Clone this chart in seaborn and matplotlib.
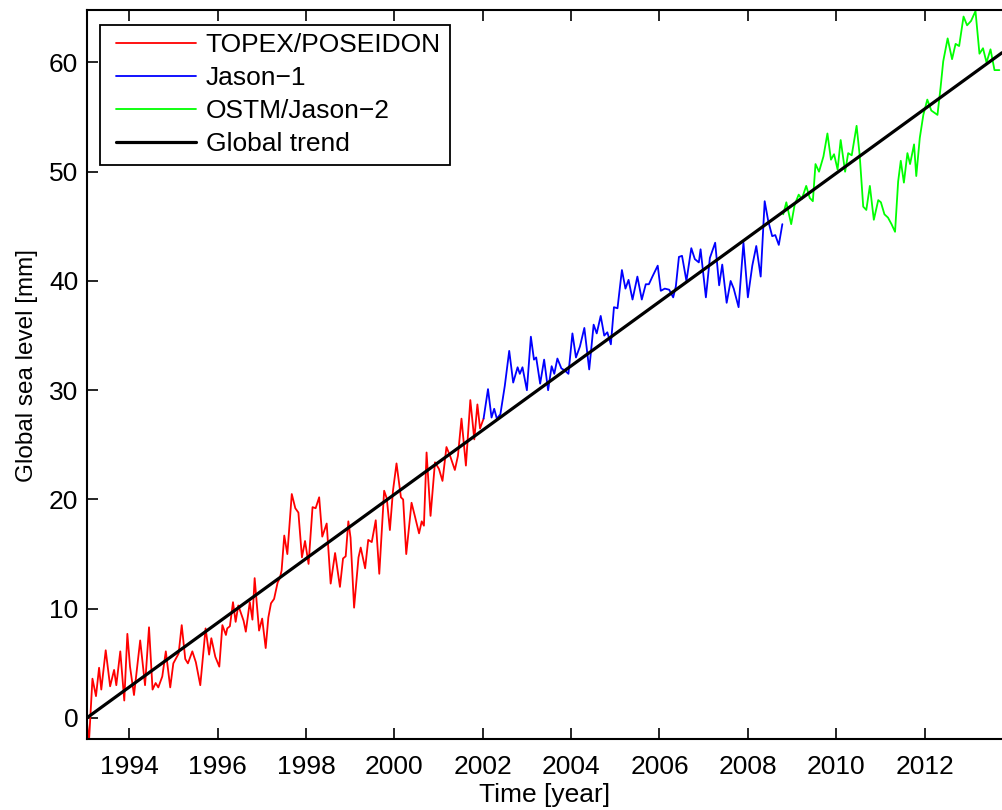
import numpy as np
import pandas as pd
import matplotlib
matplotlib.use("Agg")
import matplotlib.pyplot as plt
from matplotlib.lines import Line2D
from matplotlib.legend_handler import HandlerLine2D
import seaborn as sns

# Global mean sea level by mission (decimal year, mm)
topex_year = [1993.04, 1993.09, 1993.17, 1993.25, 1993.32, 1993.37, 1993.47, 1993.57, 1993.66, 1993.71,
              1993.80, 1993.89, 1993.96, 1994.02, 1994.11, 1994.25, 1994.36, 1994.45, 1994.53, 1994.60,
              1994.66, 1994.75, 1994.83, 1994.93, 1995.00, 1995.12, 1995.19, 1995.27, 1995.33, 1995.43,
              1995.51, 1995.61, 1995.73, 1995.81, 1995.86, 1995.95, 1996.04, 1996.11, 1996.19, 1996.22,
              1996.28, 1996.35, 1996.41, 1996.47, 1996.59, 1996.64, 1996.73, 1996.79, 1996.84, 1996.94,
              1997.01, 1997.09, 1997.15, 1997.21, 1997.28, 1997.36, 1997.41, 1997.45, 1997.51, 1997.58,
              1997.68, 1997.76, 1997.83, 1997.91, 1997.98, 1998.06, 1998.15, 1998.22, 1998.30, 1998.37,
              1998.47, 1998.56, 1998.66, 1998.77, 1998.84, 1998.90, 1998.96, 1999.01, 1999.09, 1999.19,
              1999.24, 1999.34, 1999.41, 1999.49, 1999.58, 1999.66, 1999.77, 1999.83, 1999.90, 1999.97,
              2000.05, 2000.15, 2000.20, 2000.27, 2000.39, 2000.47, 2000.56, 2000.62, 2000.67, 2000.73,
              2000.82, 2000.92, 2001.01, 2001.09, 2001.18, 2001.27, 2001.37, 2001.44, 2001.52, 2001.62,
              2001.72, 2001.81, 2001.88, 2001.94, 2002.02]
topex_mm = [-0.1, -2.3, 3.6, 2.0, 4.6, 2.6, 6.2, 2.9, 4.4, 3.0,
            6.1, 1.6, 7.7, 4.7, 2.1, 7.1, 3.0, 8.3, 2.6, 3.2,
            2.8, 3.8, 6.1, 2.8, 5.0, 5.9, 8.5, 5.4, 5.0, 6.1,
            5.1, 3.0, 8.2, 5.8, 7.3, 5.6, 4.7, 8.5, 7.6, 8.2,
            8.4, 10.6, 8.8, 10.3, 8.9, 7.9, 10.6, 9.0, 12.8, 8.0,
            9.1, 6.4, 9.2, 10.5, 10.9, 12.4, 12.8, 13.5, 16.7, 15.0,
            20.5, 19.2, 18.8, 14.7, 16.2, 14.1, 19.3, 19.2, 20.2, 16.6,
            17.8, 12.3, 15.1, 12.0, 14.6, 14.8, 18.0, 16.5, 10.1, 14.7,
            15.6, 13.7, 16.3, 16.1, 18.1, 13.2, 20.8, 20.1, 17.2, 20.8,
            23.3, 20.2, 20.0, 15.0, 19.7, 18.4, 16.9, 18.0, 17.6, 24.3,
            18.5, 23.4, 22.8, 21.7, 24.8, 23.9, 22.7, 24.0, 27.4, 23.1,
            29.1, 25.5, 28.7, 26.5, 27.4]

jason1_year = [2002.02, 2002.12, 2002.20, 2002.26, 2002.32, 2002.40, 2002.50, 2002.60, 2002.69, 2002.79,
               2002.84, 2002.90, 2003.00, 2003.09, 2003.16, 2003.21, 2003.30, 2003.39, 2003.48, 2003.56,
               2003.62, 2003.69, 2003.78, 2003.86, 2003.94, 2004.03, 2004.11, 2004.20, 2004.30, 2004.41,
               2004.51, 2004.58, 2004.67, 2004.75, 2004.82, 2004.90, 2004.97, 2005.05, 2005.15, 2005.23,
               2005.30, 2005.39, 2005.50, 2005.60, 2005.69, 2005.76, 2005.84, 2005.96, 2006.03, 2006.12,
               2006.22, 2006.31, 2006.37, 2006.44, 2006.51, 2006.61, 2006.72, 2006.80, 2006.89, 2006.93,
               2007.05, 2007.14, 2007.26, 2007.35, 2007.42, 2007.52, 2007.61, 2007.68, 2007.79, 2007.90,
               2008.00, 2008.10, 2008.19, 2008.29, 2008.38, 2008.46, 2008.55, 2008.62, 2008.70, 2008.78]
jason1_mm = [27.4, 30.1, 27.5, 28.3, 27.4, 27.8, 30.4, 33.6, 30.7, 32.1,
             31.5, 32.1, 30.0, 34.9, 32.8, 33.0, 30.6, 32.8, 30.0, 32.2,
             31.5, 32.9, 32.0, 31.8, 31.5, 35.2, 33.0, 34.0, 35.7, 31.9,
             36.0, 35.2, 36.8, 35.0, 35.3, 34.2, 37.6, 37.5, 41.0, 39.3,
             40.1, 38.3, 40.4, 38.3, 39.7, 39.7, 40.4, 41.4, 39.1, 39.3,
             39.2, 38.5, 39.5, 42.2, 42.3, 40.0, 43.0, 42.0, 41.7, 42.9,
             38.5, 42.1, 43.5, 39.6, 41.5, 38.0, 40.0, 39.3, 37.6, 43.5,
             38.5, 41.4, 43.2, 40.4, 47.3, 45.5, 44.1, 44.2, 43.3, 45.2]

jason2_year = [2008.80, 2008.87, 2008.98, 2009.06, 2009.15, 2009.22, 2009.32, 2009.40, 2009.47, 2009.53,
               2009.61, 2009.71, 2009.80, 2009.88, 2009.95, 2010.03, 2010.10, 2010.20, 2010.27, 2010.35,
               2010.46, 2010.53, 2010.61, 2010.68, 2010.76, 2010.85, 2010.95, 2011.01, 2011.09, 2011.17,
               2011.25, 2011.33, 2011.40, 2011.46, 2011.53, 2011.61, 2011.67, 2011.76, 2011.81, 2011.89,
               2011.97, 2012.06, 2012.15, 2012.29, 2012.36, 2012.42, 2012.52, 2012.62, 2012.70, 2012.78,
               2012.88, 2012.96, 2013.05, 2013.15, 2013.24, 2013.32, 2013.40, 2013.49, 2013.58, 2013.69]
jason2_mm = [46.1, 47.2, 45.2, 47.0, 47.9, 47.5, 48.7, 47.6, 47.3, 50.7,
             50.0, 51.4, 53.5, 51.1, 51.6, 50.2, 52.9, 50.0, 51.7, 51.5,
             54.2, 51.5, 46.8, 46.5, 48.7, 45.6, 47.4, 47.2, 46.1, 45.8,
             45.2, 44.5, 49.1, 51.0, 49.0, 51.7, 50.7, 52.5, 49.6, 53.1,
             55.2, 56.6, 55.6, 55.2, 57.7, 60.1, 62.2, 60.3, 61.7, 61.5,
             64.2, 63.4, 63.8, 64.7, 60.8, 61.3, 60.0, 61.2, 59.3, 59.3]

# Linear global trend: rate (mm/yr) and the year where it crosses 0 mm
trend_rate = 2.94
trend_origin = 1993.04
trend_span = [1993.04, 2013.75]

missions = ["TOPEX/POSEIDON", "Jason\u22121", "OSTM/Jason\u22122"]
mission_colors = ["#ff0000", "#0000ff", "#00ff00"]

sns.set_theme(style="ticks")
plt.rcParams["font.family"] = ["Liberation Sans", "DejaVu Sans"]
plt.rcParams.update({"text.color": "black", "axes.labelcolor": "black",
                     "xtick.color": "black", "ytick.color": "black",
                     "axes.edgecolor": "black", "axes.linewidth": 1.5})

df = pd.concat([
    pd.DataFrame({"year": topex_year, "gmsl": topex_mm, "mission": missions[0]}),
    pd.DataFrame({"year": jason1_year, "gmsl": jason1_mm, "mission": missions[1]}),
    pd.DataFrame({"year": jason2_year, "gmsl": jason2_mm, "mission": missions[2]}),
], ignore_index=True)

trend_year = np.array(trend_span)
trend_df = pd.DataFrame({"year": trend_year,
                         "gmsl": trend_rate * (trend_year - trend_origin)})

fig = plt.figure(figsize=(10.02, 8.10), dpi=100)
ax = fig.add_axes([86.7 / 1002, 70.7 / 810, 1 - 86.7 / 1002, 729.3 / 810])

sns.lineplot(data=df, x="year", y="gmsl", hue="mission", hue_order=missions,
             palette=mission_colors, linewidth=1.3, ax=ax, sort=False,
             estimator=None, legend=False)
sns.lineplot(data=trend_df, x="year", y="gmsl", color="black", linewidth=2.3,
             ax=ax, legend=False)

ax.set_xlim(1993.04, 2013.75)
ax.set_ylim(-1.95, 64.8)
ax.set_xticks(np.arange(1994, 2013, 2))
ax.set_yticks(np.arange(0, 61, 10))
ax.tick_params(axis="both", direction="in", length=8, width=1.2, labelsize=19,
               top=True, right=False)
ax.tick_params(axis="x", pad=11)
ax.tick_params(axis="y", pad=6)
ax.spines["right"].set_visible(False)
for s in ["left", "top", "bottom"]:
    ax.spines[s].set_linewidth(1.5)

ax.set_xlabel("Time [year]", fontsize=19, labelpad=3)
ax.set_ylabel("Global sea level [mm]", fontsize=17.5)
ax.yaxis.set_label_coords(-0.053, 0.513)

handles = [Line2D([], [], color=c, lw=1.3) for c in mission_colors]
handles.append(Line2D([], [], color="black", lw=2.3))
leg = ax.legend(handles, missions + ["Global trend"], loc="upper left",
                bbox_to_anchor=(0.0145, 0.98), fontsize=19, frameon=True,
                fancybox=False, framealpha=1, edgecolor="black",
                handlelength=3.3, handletextpad=0.38, labelspacing=0.34,
                borderpad=0.33, borderaxespad=0,
                handler_map={Line2D: HandlerLine2D(xpad=0.27)})
leg.get_frame().set_linewidth(1.3)

fig.savefig("out.png", dpi=100)
